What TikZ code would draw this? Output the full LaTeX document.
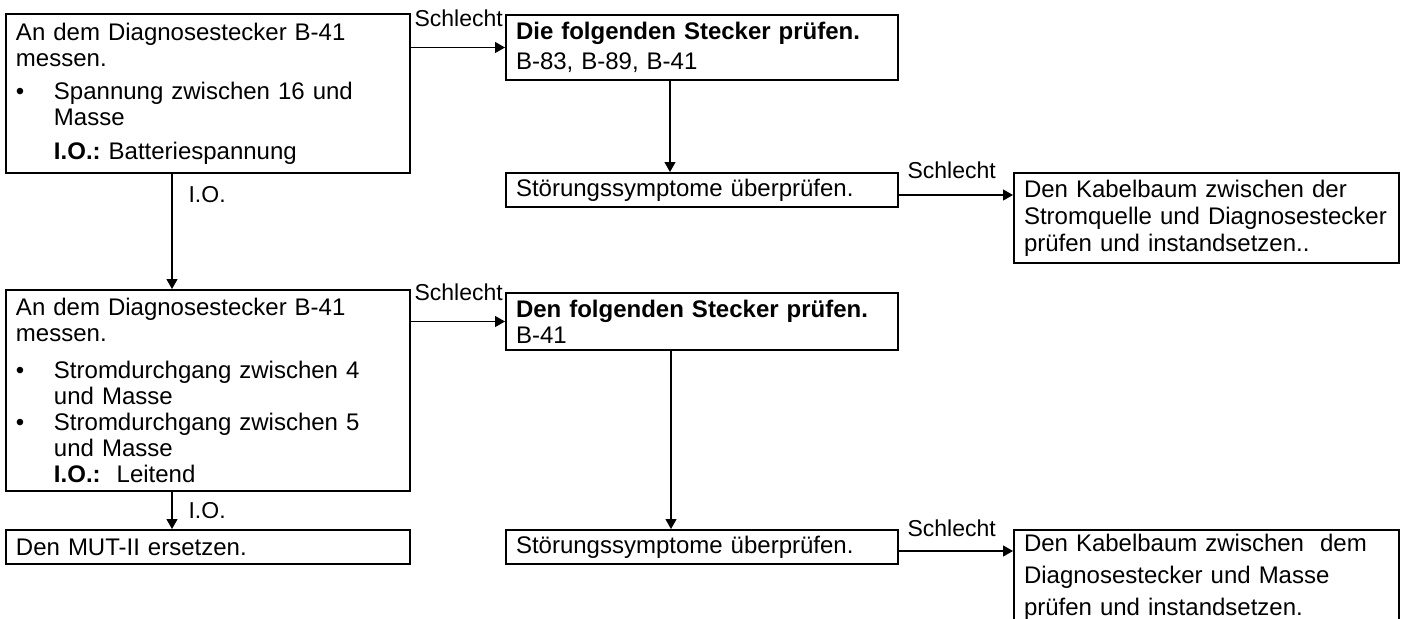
\documentclass[tikz,border=0pt]{standalone}
\usepackage{fontspec}
\setmainfont{Liberation Sans}
\usetikzlibrary{arrows.meta,calc}
\frenchspacing

\tikzset{
  pruefbox/.style={draw, line width=1pt, anchor=north west, align=left,
    inner xsep=5pt, inner ysep=2pt, font=\fontsize{12}{13}\selectfont},
  pfeil/.style={-{Triangle[length=5pt,width=5.5pt]}, line width=0.6pt},
  marke/.style={inner sep=0pt, font=\fontsize{11.5}{13}\selectfont},
}
\newcommand{\punkt}{\makebox[19pt][l]{\textbullet}}
\newcommand{\einzug}{\hspace*{19pt}}

\begin{document}
\begin{tikzpicture}[x=0.5pt, y=-0.5pt]
  \useasboundingbox (0,0) rectangle (1410,618);

  % linke Spalte
  \node[pruefbox, text width=192pt, minimum height=79.5pt] (messA) at (5,13)
    {An dem Diagnosestecker B-41\\ messen.\\[3.5pt]
     \punkt Spannung zwischen 16 und\\ \einzug Masse\\[4pt]
     \einzug\textbf{I.O.:} Batteriespannung};
  \node[pruefbox, text width=192pt, minimum height=100.5pt] (messE) at (5,289)
    {An dem Diagnosestecker B-41\\ messen.\\[5.5pt]
     \punkt Stromdurchgang zwischen 4\\ \einzug und Masse\\
     \punkt Stromdurchgang zwischen 5\\ \einzug und Masse\\
     \einzug\textbf{I.O.:} \ Leitend};
  \node[pruefbox, text width=192pt, minimum height=17pt] (mut) at (5,529)
    {Den MUT-II ersetzen.};

  % mittlere Spalte
  \node[pruefbox, text width=186pt, minimum height=32.5pt,
    font=\fontsize{12}{15}\selectfont] (steckerB) at (505,14)
    {\textbf{Die folgenden Stecker prüfen.}\\ B-83, B-89, B-41};
  \node[pruefbox, text width=186pt, minimum height=17pt] (symC) at (505,172)
    {Störungssymptome überprüfen.};
  \node[pruefbox, text width=186pt, minimum height=28.5pt] (steckerF) at (505,292)
    {\textbf{Den folgenden Stecker prüfen.}\\ B-41};
  \node[pruefbox, text width=186pt, minimum height=17pt] (symG) at (505,529)
    {Störungssymptome überprüfen.};

  % rechte Spalte
  \node[pruefbox, text width=182.5pt, minimum height=45pt,
    font=\fontsize{12}{13.5}\selectfont] (kabelD) at (1013,172)
    {Den Kabelbaum zwischen der\\ Stromquelle und Diagnosestecker\\ prüfen und instandsetzen..};
  \node[pruefbox, text width=182.5pt, minimum height=45.5pt,
    font=\fontsize{12}{16}\selectfont] (kabelH) at (1013,529)
    {Den Kabelbaum zwischen \ dem\\ Diagnosestecker und Masse\\ prüfen und instandsetzen.};

  % Verbindungen
  \coordinate (ioA) at ([xshift=83.5pt]messA.south west);
  \coordinate (ioE) at ([xshift=83.5pt]messE.south west);
  \coordinate (chkB) at ([xshift=82.5pt]steckerB.south west);
  \coordinate (chkF) at ([xshift=83pt]steckerF.south west);
  \coordinate (ausC) at ([yshift=-2.5pt]symC.east);
  \coordinate (ausG) at ([yshift=-2pt]symG.east);

  \draw[pfeil] (messA.east |- steckerB.west) -- node[marke, anchor=base west, pos=0,
    xshift=1.5pt, yshift=10.5pt] {Schlecht} (steckerB.west);
  \draw[pfeil] (messE.east |- steckerF.west) -- node[marke, anchor=base west, pos=0,
    xshift=1.5pt, yshift=10.5pt] {Schlecht} (steckerF.west);
  \draw[pfeil] (ioA) -- node[marke, pos=0.18, anchor=west, xshift=8pt] {I.O.} (ioA |- messE.north);
  \draw[pfeil] (ioE) -- node[marke, anchor=west, xshift=8pt] {I.O.} (ioE |- mut.north);
  \draw[pfeil] (chkB) -- (chkB |- symC.north);
  \draw[pfeil] (chkF) -- (chkF |- symG.north);
  \draw[pfeil] (ausC) -- node[marke, anchor=base west, pos=0,
    xshift=4pt, yshift=8.5pt] {Schlecht} (ausC -| kabelD.west);
  \draw[pfeil] (ausG) -- node[marke, anchor=base west, pos=0,
    xshift=4pt, yshift=7.5pt] {Schlecht} (ausG -| kabelH.west);
\end{tikzpicture}
\end{document}
